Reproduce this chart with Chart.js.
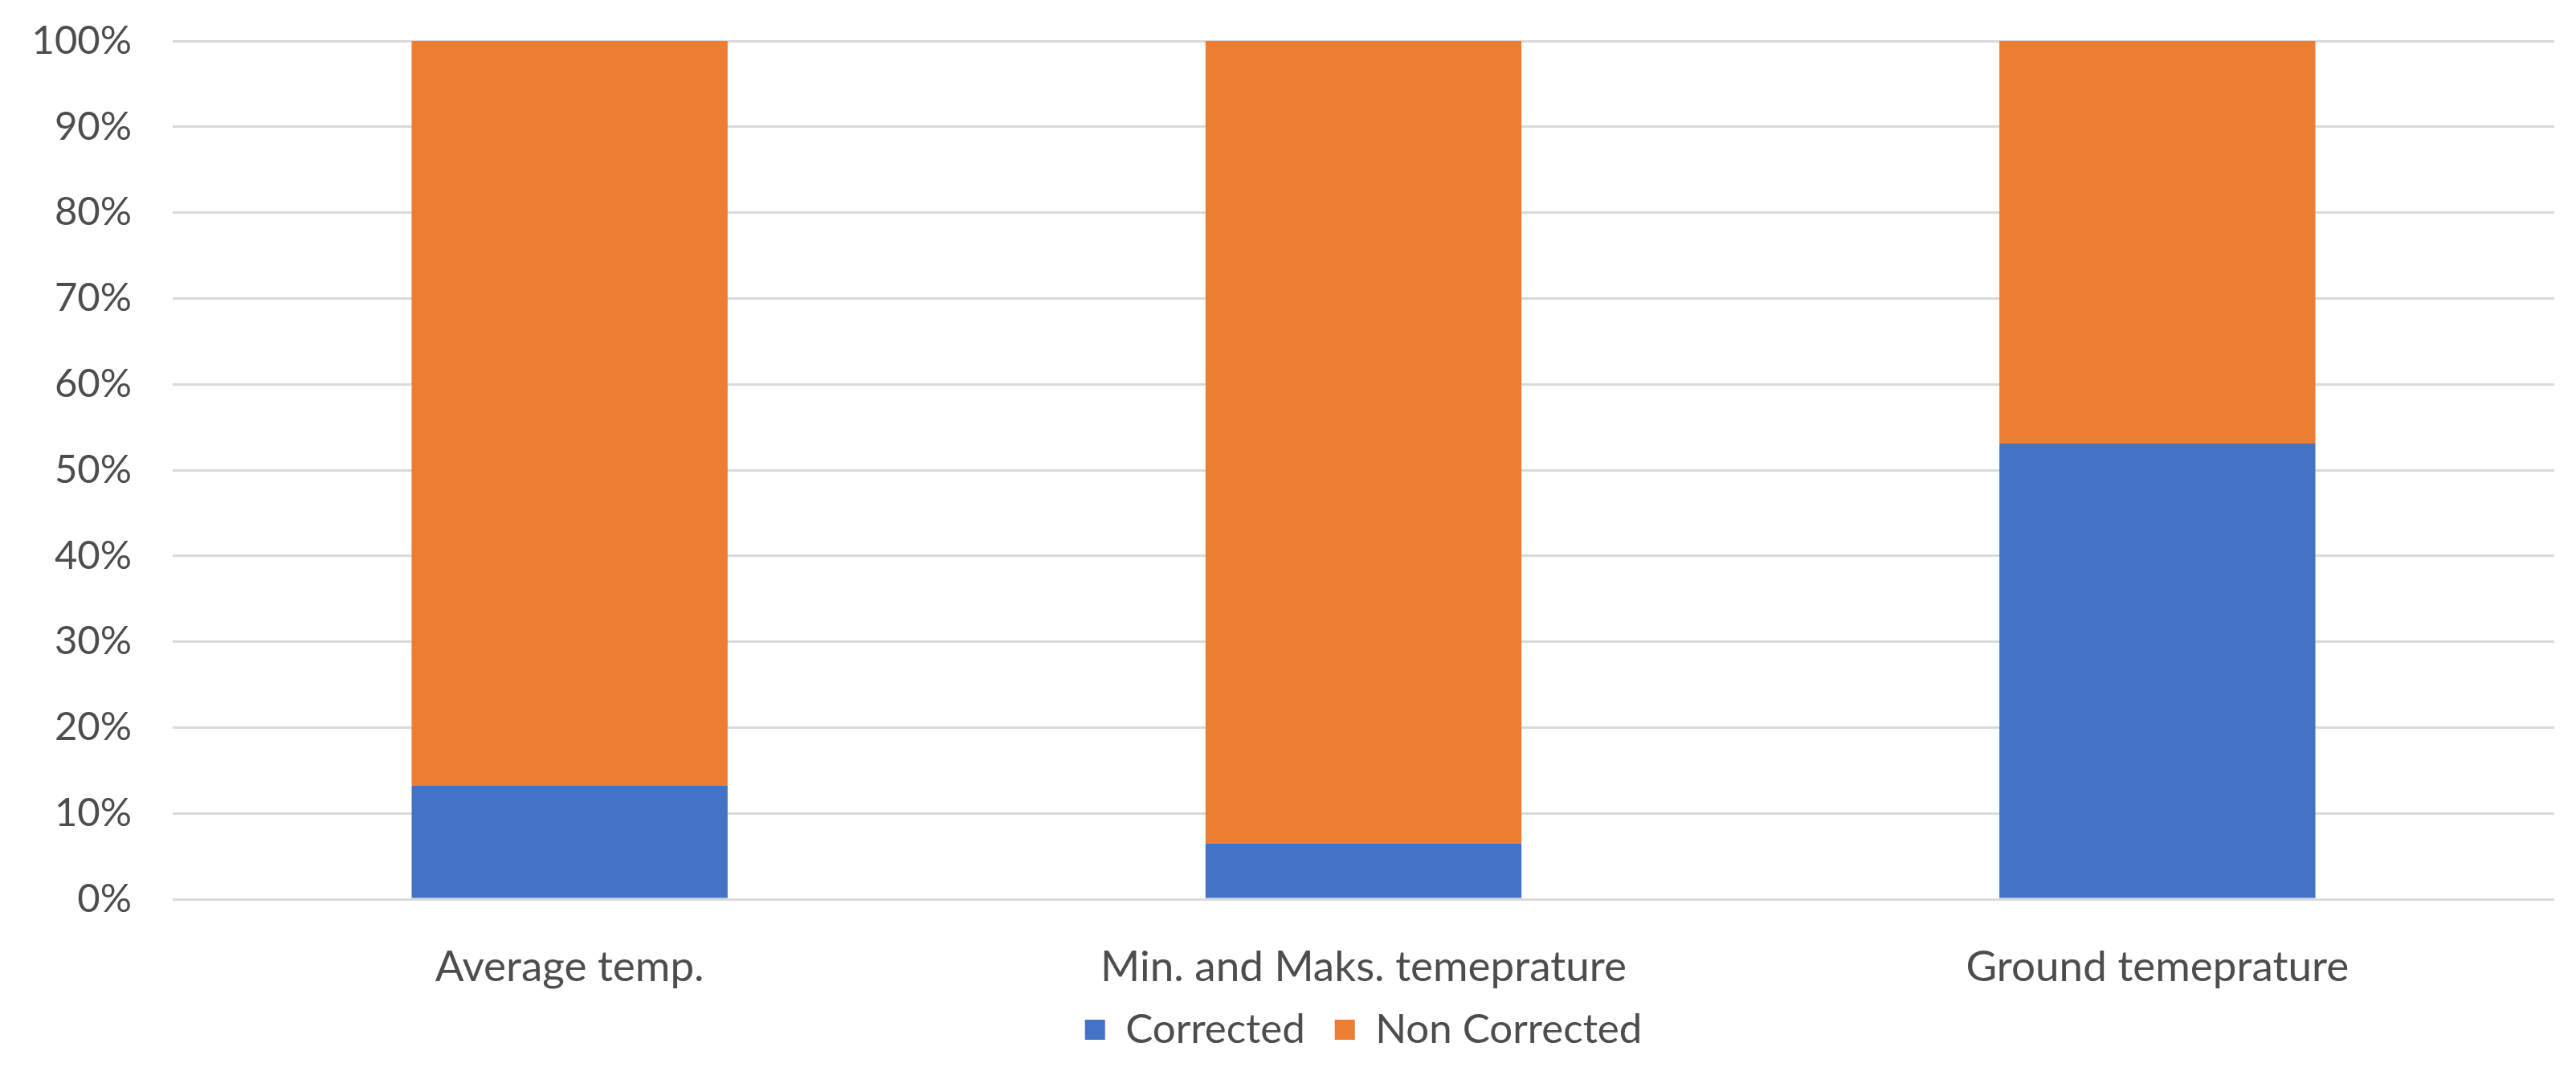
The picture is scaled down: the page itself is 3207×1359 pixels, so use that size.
<!DOCTYPE html>
<html>
<head>
<meta charset="utf-8">
<script src="https://cdn.jsdelivr.net/npm/chart.js@4"></script>
<style>
    html, body { margin: 0; padding: 0; background: #fff; }
    #wrap { width: 3207px; height: 1359px; }
</style>
</head>
<body>
<div id="wrap"><canvas id="stackChart"></canvas></div>
<script>
const categories = ["Average temp.", "Min. and Maks. temeprature", "Ground temeprature"];
const corrected = [13.2, 6.5, 53.1];
const nonCorrected = [86.8, 93.5, 46.9];
const yTicks = [0, 10, 20, 30, 40, 50, 60, 70, 80, 90, 100];

const textColor = "#4d4d4d";
Chart.defaults.font.family = "Lato, 'Open Sans', sans-serif";
Chart.defaults.color = textColor;

new Chart(document.getElementById("stackChart"), {
    type: "bar",
    data: {
        labels: categories,
        datasets: [
            {
                label: "Corrected",
                data: corrected,
                backgroundColor: "#4472C4",
            },
            {
                label: "Non Corrected",
                data: nonCorrected,
                backgroundColor: "#ED7D31",
            },
        ],
    },
    options: {
        responsive: true,
        maintainAspectRatio: false,
        animation: false,
        devicePixelRatio: 1,
        categoryPercentage: 1,
        barPercentage: 0.398,
        layout: {
            padding: { top: 51, right: 27, bottom: 42, left: 0 },
        },
        plugins: {
            legend: {
                position: "bottom",
                fullSize: false,
                labels: {
                    boxWidth: 25,
                    boxHeight: 25,
                    padding: 37,
                    color: textColor,
                    font: { size: 51 },
                },
            },
            tooltip: { enabled: false },
        },
        scales: {
            x: {
                stacked: true,
                grid: { display: false, drawTicks: false },
                border: { display: false },
                ticks: { padding: 53, maxRotation: 0, font: { size: 53 } },
                afterFit: (scale) => {
                    // keep legend close to the labels, and let labels draw past the box
                    scale.height = 100;
                    scale._computeLabelArea = () => undefined;
                },
            },
            y: {
                stacked: true,
                min: 0,
                max: 100,
                afterBuildTicks: (scale) => {
                    scale.ticks = yTicks.map((v) => ({ value: v }));
                },
                afterFit: (scale) => {
                    scale.width = 215;
                    scale.paddingTop = 0;
                    scale.paddingBottom = 0;
                },
                grid: {
                    color: "#d9d9d9",
                    lineWidth: 3,
                    drawTicks: false,
                },
                border: { display: false },
                ticks: {
                    padding: 51,
                    font: { size: 49 },
                    callback: (v) => v + "%",
                },
            },
        },
    },
});
</script>
</body>
</html>
